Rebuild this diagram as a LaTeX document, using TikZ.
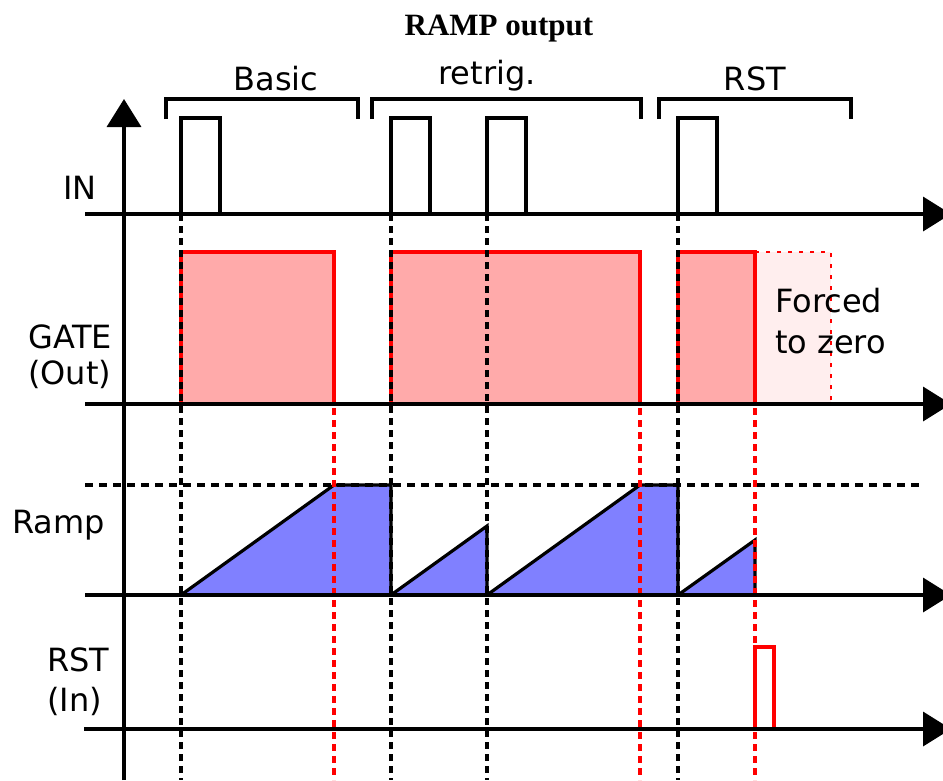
\documentclass[tikz,border=0pt]{standalone}
\usepackage{fontspec}
\setmainfont{DejaVu Sans}
\newfontfamily\titlefont{Liberation Serif}
\usetikzlibrary{arrows.meta}
\definecolor{gatefill}{RGB}{255,170,170}
\definecolor{fadefill}{RGB}{255,238,238}
\definecolor{rampfill}{RGB}{128,128,255}
\definecolor{sigred}{RGB}{255,0,0}
\begin{document}
\begin{tikzpicture}[x=1pt,y=-1pt,
  axis/.style={line width=3.6pt,-{Triangle[length=28pt,width=34pt]}},
  sig/.style={line width=3.6pt},
  brk/.style={line width=3.2pt},
  guide/.style={line width=3.2pt,dash pattern=on 7pt off 5pt},
  rguide/.style={guide,draw=sigred},
  level/.style={line width=3.2pt,dash pattern=on 8pt off 6pt},
  rampsh/.style={fill=rampfill,draw=black,line width=3.2pt,line join=miter},
  lbl/.style={font=\fontsize{32}{38}\selectfont,inner sep=0pt,anchor=base west},
  clbl/.style={lbl,anchor=base},
]
\useasboundingbox (0,0) rectangle (943,780);
\clip (0,0) rectangle (943,780);

% gate fills
\fill[gatefill] (181,252) rectangle (334,404);
\fill[gatefill] (391,252) rectangle (640,404);
\fill[gatefill] (678,252) rectangle (755,404);
\fill[fadefill] (755,252) rectangle (831,404);
\draw[sigred,line width=2.4pt,dash pattern=on 4pt off 7pt] (755,252) -| (831,404);

% ramps
\draw[rampsh] (181,595) -- (334,485) -- (391,485) -- (391,595) -- cycle;
\draw[rampsh] (391,595) -- (487,526) -- (487,595) -- cycle;
\draw[rampsh] (487,595) -- (640,485) -- (678,485) -- (678,595) -- cycle;
\draw[rampsh] (678,595) -- (755,540) -- (755,595) -- cycle;
\draw[level] (85,485) -- (923,485);

% IN pulses
\draw[sig] (181,214) |- (220,118) -- (220,214);
\draw[sig] (391,214) |- (430,118) -- (430,214);
\draw[sig] (487,214) |- (526,118) -- (526,214);
\draw[sig] (678,214) |- (717,118) -- (717,214);

% GATE outlines
\draw[sig,sigred] (181,404) |- (334,252) -- (334,404);
\draw[sig,sigred] (391,404) |- (640,252) -- (640,404);
\draw[sig,sigred] (678,404) |- (755,252) -- (755,404);

% RST pulse
\draw[sig,sigred,line width=3.2pt] (755,729) |- (774,647) -- (774,729);

% guides
\foreach \gx in {181,391,487,678} \draw[guide] (\gx,118) -- (\gx,780);
\foreach \gx in {334,640,755} \draw[rguide] (\gx,252) -- (\gx,780);

% axes
\draw[axis] (124,780) -- (124,99);
\draw[axis] (85,214) -- (951,214);
\draw[axis] (85,404) -- (951,404);
\draw[axis] (85,595) -- (951,595);
\draw[axis] (84,729) -- (951,729);

% brackets
\draw[brk] (166,119) |- (358,99) -- (358,119);
\draw[brk] (372,119) |- (641,99) -- (641,119);
\draw[brk] (659,119) |- (851,99) -- (851,119);

% labels
\node[font=\titlefont\bfseries\fontsize{31}{36}\selectfont,anchor=base,inner sep=0pt] (title) at (499,35) {RAMP output};
\node[clbl] (basic) at (276,90) {Basic};
\node[clbl] (retrig) at (487,84) {retrig.};
\node[clbl] (rstgrp) at (755,90) {RST};
\node[lbl,anchor=base east] (in) at (97,199) {IN};
\node[lbl] (gate) at (28,348) {GATE};
\node[lbl] (out) at (28,384) {(Out)};
\node[lbl] (ramp) at (12,533) {Ramp};
\node[lbl] (rst) at (47,671) {RST};
\node[lbl] (rstin) at (47,711) {(In)};
\node[lbl] (forced) at (775,312) {Forced};
\node[lbl] (tozero) at (775,353) {to zero};
\end{tikzpicture}
\end{document}
